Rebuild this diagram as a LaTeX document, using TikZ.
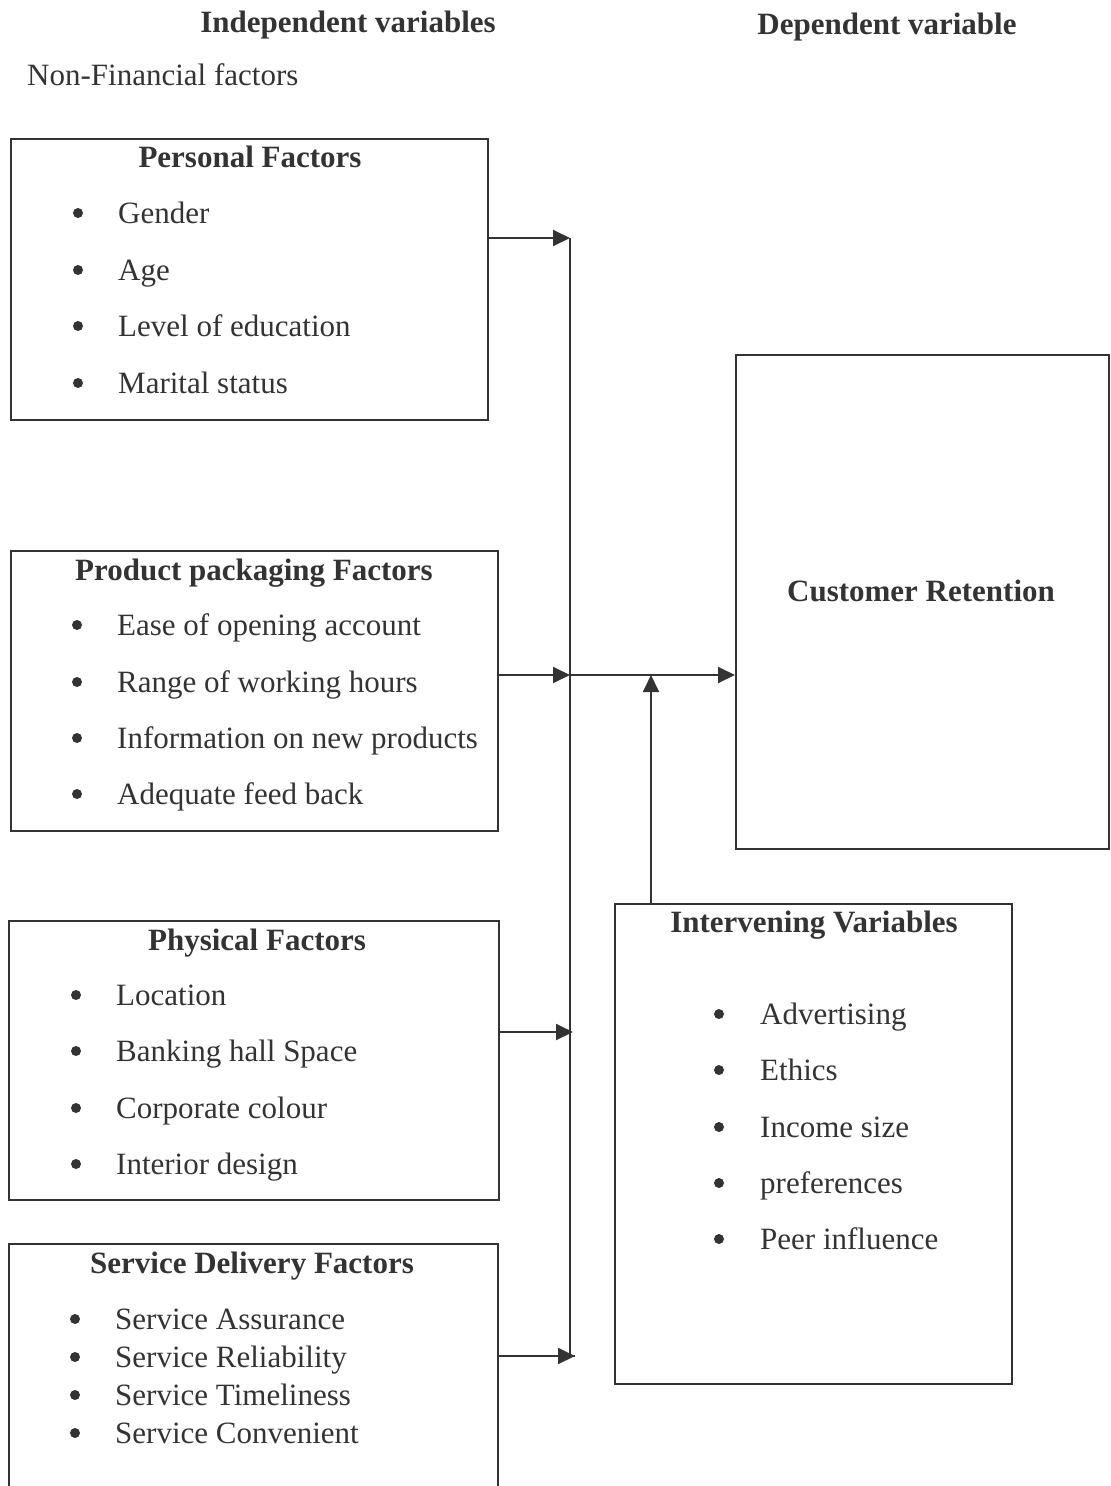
\documentclass[tikz,border=0pt]{standalone}
\usepackage{fontspec}
\setmainfont{Liberation Serif}
\usepackage{tikz}
\usetikzlibrary{arrows.meta,positioning}
\definecolor{ink}{gray}{0.2}
\tikzstyle{box} = [draw=ink, line width=1.5pt, rectangle, anchor=north west, inner sep=0pt]
\tikzstyle{line} = [draw=ink, line width=1.9pt, -{Triangle[length=17pt,width=16pt]}]
\tikzstyle{txt} = [text=ink, inner sep=0pt, font=\fontsize{31}{37}\selectfont]
\tikzstyle{ttl} = [txt, anchor=base, font=\fontsize{31}{37}\selectfont\bfseries]
\tikzstyle{itm} = [txt, anchor=base west]
\tikzstyle{dot} = [circle, fill=ink, inner sep=0pt, minimum size=10pt, anchor=base, yshift=10pt]

\begin{document}
\begin{tikzpicture}[x=1pt,y=-1pt]
    \useasboundingbox (0,0) rectangle (1111,1486);

    \node[ttl] (indep) at (348,32) {Independent variables};
    \node[ttl] (dep) at (887,34) {Dependent variable};
    \node[itm] (nonfin) at (27,85) {Non-Financial factors};

    % personal
    \node[box, minimum width=477pt, minimum height=281pt] (pers) at (10,138) {};
    \node[ttl] (perst) at (250,167) {Personal Factors};
    \node[dot] (persba) at (78,223) {};
    \node[itm] (persa) at (118,223) {Gender};
    \node[dot] (persbb) at (78,280) {};
    \node[itm] (persb) at (118,280) {Age};
    \node[dot] (persbc) at (78,336) {};
    \node[itm] (persc) at (118,336) {Level of education};
    \node[dot] (persbd) at (78,393) {};
    \node[itm] (persd) at (118,393) {Marital status};

    % product packaging
    \node[box, minimum width=487pt, minimum height=280pt] (prod) at (10,550) {};
    \node[ttl] (prodt) at (254,580) {Product packaging Factors};
    \node[dot] (prodba) at (77,635) {};
    \node[itm] (proda) at (117,635) {Ease of opening account};
    \node[dot] (prodbb) at (77,692) {};
    \node[itm] (prodb) at (117,692) {Range of working hours};
    \node[dot] (prodbc) at (77,748) {};
    \node[itm] (prodc) at (117,748) {Information on new products};
    \node[dot] (prodbd) at (77,804) {};
    \node[itm] (prodd) at (117,804) {Adequate feed back};

    % physical
    \node[box, minimum width=490pt, minimum height=279pt] (phys) at (8,920) {};
    \node[ttl] (physt) at (257,950) {Physical Factors};
    \node[dot] (physba) at (76,1005) {};
    \node[itm] (physa) at (116,1005) {Location};
    \node[dot] (physbb) at (76,1061) {};
    \node[itm] (physb) at (116,1061) {Banking hall Space};
    \node[dot] (physbc) at (76,1118) {};
    \node[itm] (physc) at (116,1118) {Corporate colour};
    \node[dot] (physbd) at (76,1174) {};
    \node[itm] (physd) at (116,1174) {Interior design};

    % service delivery
    \node[box, minimum width=489pt, minimum height=250pt] (serv) at (8,1243) {};
    \node[ttl] (servt) at (252,1273) {Service Delivery Factors};
    \node[dot] (servba) at (75,1329) {};
    \node[itm] (serva) at (115,1329) {Service Assurance};
    \node[dot] (servbb) at (75,1367) {};
    \node[itm] (servb) at (115,1367) {Service Reliability};
    \node[dot] (servbc) at (75,1405) {};
    \node[itm] (servc) at (115,1405) {Service Timeliness};
    \node[dot] (servbd) at (75,1443) {};
    \node[itm] (servd) at (115,1443) {Service Convenient};

    % dependent
    \node[box, minimum width=373pt, minimum height=494pt] (ret) at (735,354) {};
    \node[ttl] (rett) at (921,601) {Customer Retention};

    % intervening
    \node[box, minimum width=397pt, minimum height=480pt] (intv) at (614,903) {};
    \node[ttl] (intvt) at (814,932) {Intervening Variables};
    \node[dot] (intvba) at (719,1024) {};
    \node[itm] (intva) at (760,1024) {Advertising};
    \node[dot] (intvbb) at (719,1080) {};
    \node[itm] (intvb) at (760,1080) {Ethics};
    \node[dot] (intvbc) at (719,1137) {};
    \node[itm] (intvc) at (760,1137) {Income size};
    \node[dot] (intvbd) at (719,1193) {};
    \node[itm] (intvd) at (760,1193) {preferences};
    \node[dot] (intvbe) at (719,1249) {};
    \node[itm] (intve) at (760,1249) {Peer influence};

    % connectors
    \coordinate (top) at (570,238);
    \coordinate (junc) at (570,675);
    \coordinate (physend) at (573,1032);
    \coordinate (bot) at (575,1356);
    \coordinate (intvup) at (651,675);

    \draw[draw=ink, line width=1.9pt] (top) -- (570,1356) -- (bot);
    \path[line] (pers.east |- top) -- (top);
    \path[line] (prod.east |- junc) -- (junc);
    \path[line] (junc) -- (ret.west |- junc);
    \path[line] (intv.north -| intvup) -- (intvup);
    \path[line] (phys.east |- physend) -- (physend);
    \path[line] (serv.east |- bot) -- (bot);
\end{tikzpicture}
\end{document}
